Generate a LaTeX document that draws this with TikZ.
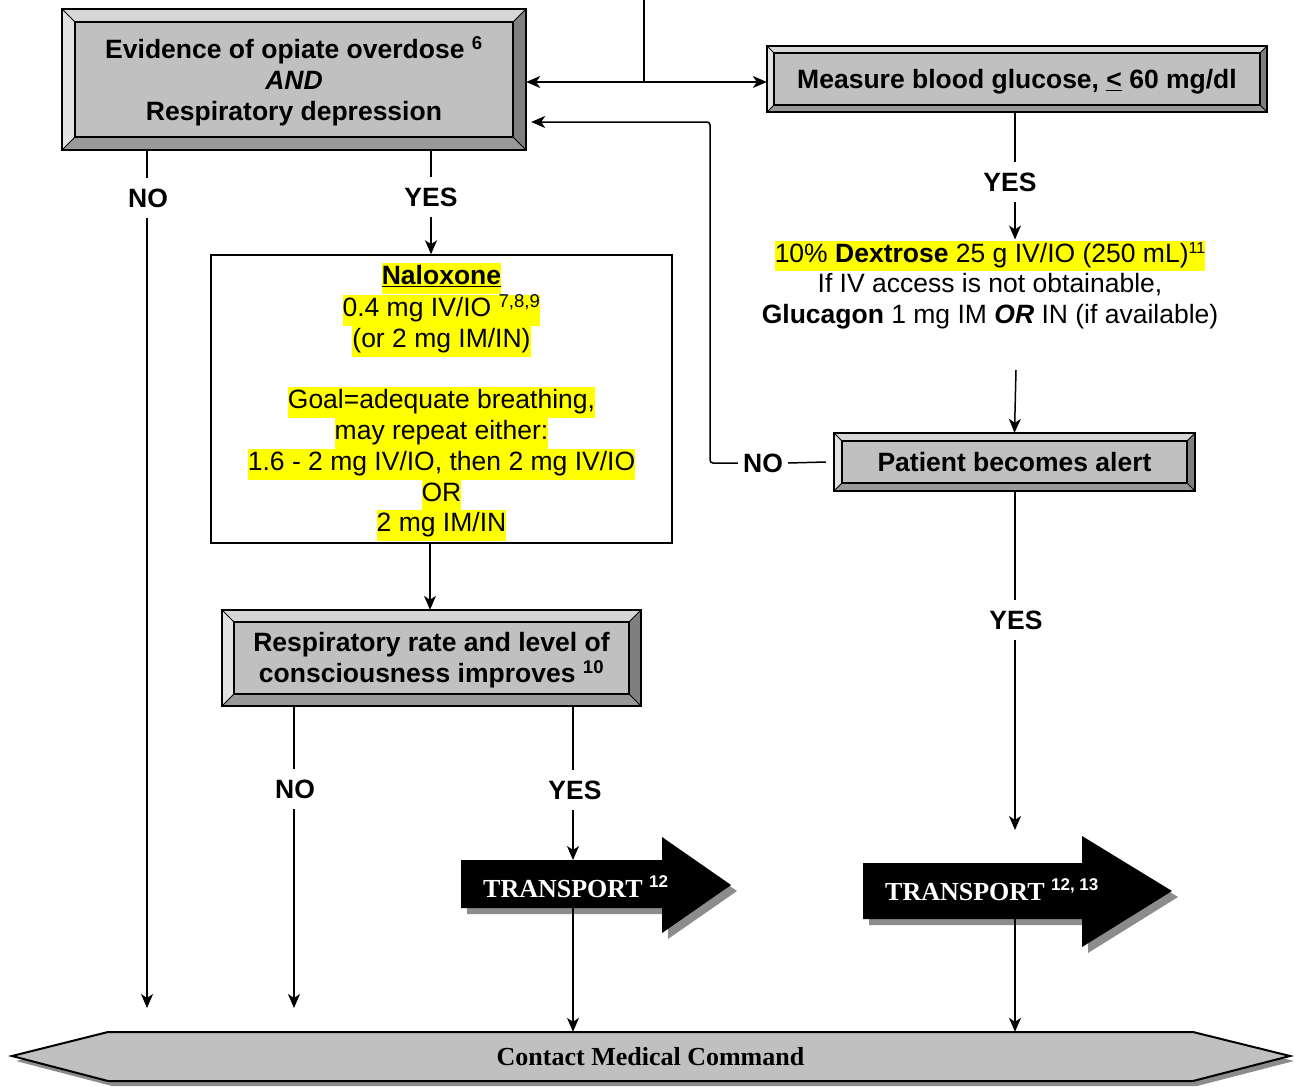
\documentclass[tikz,border=0pt]{standalone}
\usepackage{fontspec}
\setmainfont{Liberation Sans}
\newfontfamily\timesfont{Liberation Serif}
\usetikzlibrary{arrows.meta,calc}
\definecolor{face}{HTML}{C0C0C0}
\definecolor{bevlt}{HTML}{E2E2E2}
\definecolor{bevtp}{HTML}{D6D6D6}
\definecolor{bevdk}{HTML}{7F7F7F}
\definecolor{bevbt}{HTML}{999999}
\definecolor{hly}{HTML}{FFFF00}
\definecolor{shad}{HTML}{8C8C8C}
\newcommand\hlt[1]{{\setlength{\fboxsep}{0pt}\colorbox{hly}{\strut#1}}}
\tikzset{
  ln/.style={line width=1.5pt},
  arr/.style={line width=1.5pt,-{Stealth[length=14pt,width=12pt,inset=4pt]}},
  arrboth/.style={line width=1.5pt,{Stealth[length=14pt,width=12pt,inset=4pt]}-{Stealth[length=14pt,width=12pt,inset=4pt]}},
  boxtext/.style={align=center,font=\fontsize{26.5}{30.75}\selectfont\bfseries,inner sep=0pt},
  lab/.style={font=\fontsize{26.5}{30}\selectfont\bfseries,text height=19pt,text depth=0pt,inner xsep=3pt,inner ysep=10pt},
  trtext/.style={text=white,font=\timesfont\bfseries\fontsize{26}{30}\selectfont,inner sep=0pt,anchor=base west},
}
\newcommand\sups[1]{\raisebox{10pt}{\rmfamily\bfseries\fontsize{17}{17}\selectfont #1}}
% name x1 y1 x2 y2 inset text-yshift text
\newcommand\bevbox[8]{%
  \fill[face] (#2,#3) rectangle (#4,#5);
  \fill[bevtp] (#2,#3) -- (#4,#3) -- (#4-#6,#3+#6) -- (#2+#6,#3+#6) -- cycle;
  \fill[bevlt] (#2,#3) -- (#2+#6,#3+#6) -- (#2+#6,#5-#6) -- (#2,#5) -- cycle;
  \fill[bevdk] (#4,#3) -- (#4,#5) -- (#4-#6,#5-#6) -- (#4-#6,#3+#6) -- cycle;
  \fill[bevbt] (#2,#5) -- (#4,#5) -- (#4-#6,#5-#6) -- (#2+#6,#5-#6) -- cycle;
  \draw[line width=0.8pt] (#2,#3) -- (#2+#6,#3+#6) (#4,#3) -- (#4-#6,#3+#6)
        (#2,#5) -- (#2+#6,#5-#6) (#4,#5) -- (#4-#6,#5-#6);
  \draw[line width=2pt] (#2,#3) rectangle (#4,#5);
  \draw[line width=2pt] (#2+#6,#3+#6) rectangle (#4-#6,#5-#6);
  \node[minimum width={(#4-#2)*1pt},minimum height={(#5-#3)*1pt},inner sep=0pt] (#1)
        at ({(#2+#4)/2},{(#3+#5)/2}) {};
  \node[boxtext] at ({(#2+#4)/2},{(#3+#5)/2+#7}) {#8};
}
\begin{document}
\begin{tikzpicture}[x=1pt,y=-1pt]
\useasboundingbox (0,0) rectangle (1294,1087);
\fill[white] (0,0) rectangle (1294,1087);

% boxes
\bevbox{ev}{62}{9}{526}{150}{13}{2}{Evidence of opiate overdose \textsuperscript{6}\\ \textit{AND}\\ Respiratory depression}
\bevbox{gl}{767}{46}{1267}{112}{7}{3}{Measure blood glucose, \underline{<} 60 mg/dl}
\bevbox{resp}{222}{610}{641}{706}{12}{2}{Respiratory rate and level of\\ consciousness improves \textsuperscript{10}}
\bevbox{alert}{834}{433}{1195}{491}{8}{0}{Patient becomes alert}

\node[draw,line width=1.5pt,minimum width=461pt,minimum height=288pt,inner sep=0pt] (nal) at (441.5,399) {};
\node[align=center,font=\fontsize{26.5}{30.75}\selectfont,inner sep=0pt] (naltext) at (441.5,402)
 {\hlt{\textbf{\underline{Naloxone}}}\\
  \hlt{0.4 mg IV/IO \textsuperscript{7,8,9}}\\
  \hlt{(or 2 mg IM/IN)}\\
  \strut\\
  \hlt{Goal=adequate breathing,}\\
  \hlt{may repeat either:}\\
  \hlt{1.6 - 2 mg IV/IO, then 2 mg IV/IO}\\
  \hlt{OR}\\
  \hlt{2 mg IM/IN}};

\node[align=center,font=\fontsize{26.5}{30.75}\selectfont,inner sep=1pt] (dex) at (990,285)
 {\hlt{10\% \textbf{Dextrose} 25 g IV/IO (250 mL){\fontsize{16}{16}\selectfont\raisebox{9pt}{11}}}\\
  If IV access is not obtainable,\\
  \textbf{Glucagon} 1 mg IM \textbf{\textit{OR}} IN (if available)};

% transport arrows
\begin{scope}[shift={(6,6)}]
  \fill[shad] (461,860) -- (662,860) -- (662,837) -- (731,885) -- (662,933) -- (662,908) -- (461,908) -- cycle;
  \fill[shad] (863,863) -- (1082,863) -- (1082,836) -- (1172,891) -- (1082,947) -- (1082,919) -- (863,919) -- cycle;
\end{scope}
\fill[black] (461,860) -- (662,860) -- (662,837) -- (731,885) -- (662,933) -- (662,908) -- (461,908) -- cycle;
\fill[black] (863,863) -- (1082,863) -- (1082,836) -- (1172,891) -- (1082,947) -- (1082,919) -- (863,919) -- cycle;
\node[trtext] (tr1) at (483,897) {TRANSPORT \sups{12}};
\node[trtext] (tr2) at (885,900) {TRANSPORT \sups{12, 13}};
\coordinate (t1top) at (573,860);
\coordinate (t1bot) at (573,908);
\coordinate (t2bot) at (1015,919);

% bottom command bar
\begin{scope}[shift={(4,5)}]
  \fill[shad] (12,1056) -- (108,1032) -- (1193,1032) -- (1290,1056) -- (1193,1081) -- (108,1081) -- cycle;
\end{scope}
\draw[fill=face,line width=2pt,line join=miter] (12,1056) -- (108,1032) -- (1193,1032) -- (1290,1056) -- (1193,1081) -- (108,1081) -- cycle;
\node[font=\timesfont\bfseries\fontsize{26}{30}\selectfont,minimum width=1085pt,minimum height=49pt,inner sep=0pt] (cmc) at (650.5,1056.5) {Contact Medical Command};

% free ends
\coordinate (top) at (644,0);
\coordinate (e1) at (147,1008);
\coordinate (e2) at (294,1008);
\coordinate (e3) at (1015,830);
\coordinate (pa) at (1016,370);

% connectors
\draw[ln] (top) -- (top |- 0,82);
\draw[arrboth] (ev.east |- 0,82) -- (gl.west |- 0,82);

\node[lab] (no1) at (148,198) {NO};
\draw[ln] (ev.south -| 147,0) -- (no1.north -| 147,0);
\draw[arr] (no1.south -| 147,0) -- (e1);

\node[lab] (yes1) at (431,197) {YES};
\draw[ln] (ev.south -| yes1) -- (yes1.north);
\draw[arr] (yes1.south) -- (nal.north -| yes1);

\draw[arr] (nal.south -| 430,0) -- (resp.north -| 430,0);

\node[lab] (no2) at (295,789) {NO};
\draw[ln] (resp.south -| 294,0) -- (no2.north -| 294,0);
\draw[arr] (no2.south -| 294,0) -- (e2);

\node[lab] (yes2) at (575,790) {YES};
\draw[ln] (resp.south -| 573,0) -- (yes2.north -| 573,0);
\draw[arr] (yes2.south -| 573,0) -- (t1top);
\draw[arr] (t1bot) -- (cmc.north -| t1bot);

\node[lab] (yes3) at (1010,182) {YES};
\draw[ln] (gl.south -| 1015,0) -- (yes3.north -| 1015,0);
\draw[arr] (yes3.south -| 1015,0) -- (dex.north -| 1015,0);

\draw[arr] (pa) -- (alert.north);

\node[lab] (yes4) at (1016,620) {YES};
\draw[ln] (alert.south -| 1015,0) -- (yes4.north -| 1015,0);
\draw[arr] (yes4.south -| 1015,0) -- (e3);
\draw[arr] (t2bot) -- (cmc.north -| t2bot);

\node[lab,inner xsep=5pt] (no3) at (763,463) {NO};
\draw[ln] ([xshift=-8pt]alert.west) -- (no3.east);
\draw[arr,rounded corners=3pt,shorten >=5pt] (no3.west) -- (710,463) -- (710,122) -- (ev.east |- 0,122);
\end{tikzpicture}
\end{document}
